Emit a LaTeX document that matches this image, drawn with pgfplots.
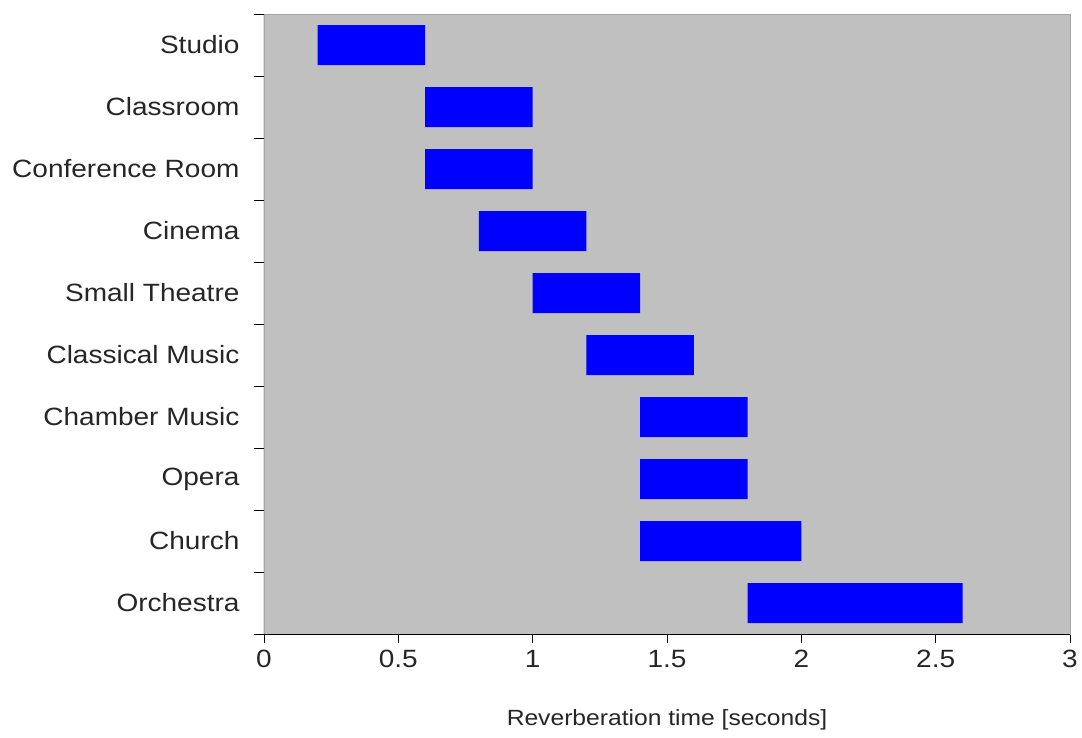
\documentclass[border=0pt]{standalone}
\usepackage{fontspec}
\setmainfont[FakeStretch=1.12]{Liberation Sans}
\usepackage{pgfplots}
\pgfplotsset{compat=1.18}
\definecolor{bggray}{RGB}{192,192,192}
\definecolor{barblue}{RGB}{0,0,255}
\begin{document}
\begin{tikzpicture}
\begin{axis}[
  at={(0,0)}, anchor=south west,
  scale only axis, width=806pt, height=620pt,
  xbar stacked, bar width=40pt,
  xmin=0, xmax=3, ymin=-0.5, ymax=9.5, y dir=reverse,
  axis background/.style={fill=bggray},
  axis line style={gray!70},
  xtick={0,0.5,1,1.5,2,2.5,3},
  xticklabels={0,0.5,1,1.5,2,2.5,3},
  ytick={0,1,2,3,4,5,6,7,8,9},
  yticklabels={Studio,Classroom,Conference Room,Cinema,Small Theatre,Classical Music,Chamber Music,Opera,Church,Orchestra},
  minor ytick={-0.5,0.5,1.5,2.5,3.5,4.5,5.5,6.5,7.5,8.5,9.5},
  major y tick style={draw=none},
  minor y tick style={black, line width=0.8pt},
  major x tick style={black, line width=0.8pt},
  tick align=outside,
  xtick pos=bottom, ytick pos=left,
  major tick length=9pt, minor tick length=10pt,
  ticklabel style={font=\fontsize{25}{30}\selectfont, text=black!85},
  yticklabel style={xshift=-12pt},
  xticklabel style={yshift=-4pt},
  xlabel={Reverberation time [seconds]},
  xlabel style={font=\fontsize{22}{26}\selectfont, text=black!85, at={(axis description cs:0.5,0)}, anchor=center, yshift=-86pt},
]
\addplot[draw=none, fill=none] coordinates {(0.2,0) (0.6,1) (0.6,2) (0.8,3) (1.0,4) (1.2,5) (1.4,6) (1.4,7) (1.4,8) (1.8,9)};
\addplot[fill=barblue, draw=none] coordinates {(0.4,0) (0.4,1) (0.4,2) (0.4,3) (0.4,4) (0.4,5) (0.4,6) (0.4,7) (0.6,8) (0.8,9)};
\draw[black, line width=1pt] (axis description cs:0,1) -- (axis description cs:0,0) -- (axis description cs:1,0);
\end{axis}
\pgfresetboundingbox
\path (-264pt,-104pt) rectangle (818pt,634pt);
\end{tikzpicture}
\end{document}
